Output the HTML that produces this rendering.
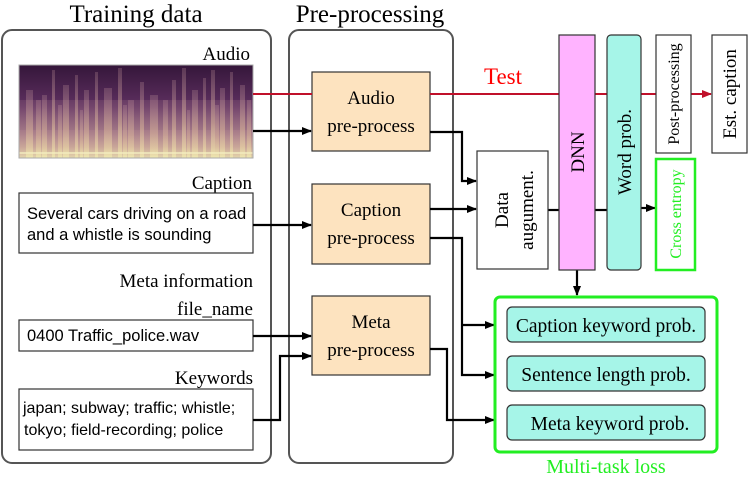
<!DOCTYPE html>
<html><head><style>
body{margin:0;background:#fff;}
svg{display:block;}
.s{font-family:"Liberation Serif",serif;}
.a{font-family:"Liberation Sans",sans-serif;}
</style></head><body>
<svg width="748" height="483" viewBox="0 0 748 483" xmlns="http://www.w3.org/2000/svg">
<defs>
<linearGradient id="bg" x1="0" y1="0" x2="0" y2="1">
<stop offset="0" stop-color="#34163a"/><stop offset="0.45" stop-color="#5e3060"/><stop offset="1" stop-color="#b88a9c"/>
</linearGradient>
<linearGradient id="st" x1="0" y1="0" x2="0" y2="1">
<stop offset="0" stop-color="#c89aa0" stop-opacity="0.25"/><stop offset="0.6" stop-color="#d8b498" stop-opacity="0.55"/><stop offset="1" stop-color="#f0eab0" stop-opacity="0.9"/>
</linearGradient>
<marker id="ab" markerWidth="10" markerHeight="8" refX="9" refY="4" orient="auto" markerUnits="userSpaceOnUse"><path d="M0,0 L10,4 L0,8 z" fill="#000"/></marker>
<marker id="ar" markerWidth="10" markerHeight="8" refX="9" refY="4" orient="auto" markerUnits="userSpaceOnUse"><path d="M0,0 L10,4 L0,8 z" fill="#c0102a"/></marker>
</defs>
<text class="s" x="136" y="22" font-size="25" text-anchor="middle">Training data</text>
<text class="s" x="370" y="22" font-size="25" text-anchor="middle">Pre-processing</text>
<rect x="2" y="30" width="269" height="433" rx="10" fill="none" stroke="#555" stroke-width="2"/>
<rect x="289" y="30" width="164" height="433" rx="10" fill="none" stroke="#555" stroke-width="2"/>
<text class="s" x="250" y="60" font-size="19" text-anchor="end">Audio</text>
<rect x="19" y="65" width="234" height="93" fill="url(#bg)"/>
<g fill="url(#st)">
<rect x="19" y="100" width="234" height="58" opacity="0.6"/>
<rect x="26" y="90" width="7" height="68"/><rect x="36" y="100" width="5" height="58"/><rect x="42" y="95" width="5" height="63"/><rect x="52" y="70" width="3" height="88"/>
<rect x="58" y="105" width="4" height="53"/><rect x="63" y="85" width="6" height="73"/><rect x="75" y="75" width="3" height="83"/><rect x="80" y="110" width="3" height="48"/><rect x="84" y="90" width="5" height="68"/>
<rect x="95" y="72" width="3" height="86"/><rect x="104" y="88" width="8" height="70"/><rect x="118" y="68" width="4" height="90"/><rect x="123" y="105" width="4" height="53"/>
<rect x="128" y="100" width="6" height="58"/><rect x="140" y="82" width="4" height="76"/><rect x="150" y="95" width="8" height="63"/>
<rect x="163" y="100" width="5" height="58"/><rect x="172" y="80" width="4" height="78"/><rect x="182" y="68" width="4" height="90"/><rect x="187" y="110" width="3" height="48"/>
<rect x="192" y="90" width="6" height="68"/><rect x="203" y="78" width="3" height="80"/><rect x="211" y="70" width="4" height="88"/><rect x="215" y="105" width="4" height="53"/>
<rect x="220" y="88" width="5" height="70"/><rect x="230" y="72" width="3" height="86"/><rect x="240" y="85" width="5" height="73"/><rect x="247" y="100" width="4" height="58"/>
<rect x="19" y="130" width="234" height="28" opacity="0.6"/>
</g>
<rect x="19" y="152" width="234" height="2" fill="#f4eec0" opacity="0.7"/>
<rect x="19" y="65" width="234" height="93" fill="none" stroke="#aaa" stroke-width="1"/>
<text class="s" x="252" y="189" font-size="19" text-anchor="end">Caption</text>
<rect x="19" y="193" width="234" height="60" fill="#fff" stroke="#333" stroke-width="1.2"/>
<text class="a" x="27" y="219" font-size="16.5">Several cars driving on a road</text>
<text class="a" x="27" y="240" font-size="16.5">and a whistle is sounding</text>
<text class="s" x="253" y="287" font-size="19" text-anchor="end">Meta information</text>
<text class="s" x="253" y="315" font-size="19" text-anchor="end">file_name</text>
<rect x="19" y="320" width="234" height="31" fill="#fff" stroke="#333" stroke-width="1.2"/>
<text class="a" x="27" y="341" font-size="16.5">0400 Traffic_police.wav</text>
<text class="s" x="253" y="384" font-size="19" text-anchor="end">Keywords</text>
<rect x="19" y="389" width="234" height="61" fill="#fff" stroke="#333" stroke-width="1.2"/>
<text class="a" x="23" y="413" font-size="16">japan; subway; traffic; whistle;</text>
<text class="a" x="24" y="435" font-size="16">tokyo; field-recording; police</text>
<g fill="#fde3bf" stroke="#333" stroke-width="1.2">
<rect x="312" y="72" width="118" height="79"/>
<rect x="312" y="184" width="118" height="80"/>
<rect x="312" y="296" width="118" height="79"/>
</g>
<g class="s" font-size="19" text-anchor="middle">
<text x="371" y="104">Audio</text><text x="371" y="132">pre-process</text>
<text x="371" y="216">Caption</text><text x="371" y="244">pre-process</text>
<text x="371" y="328">Meta</text><text x="371" y="356">pre-process</text>
</g>
<line x1="253" y1="94" x2="312" y2="94" stroke="#c0102a" stroke-width="2"/>
<line x1="430" y1="94" x2="711" y2="94" stroke="#c0102a" stroke-width="2" marker-end="url(#ar)"/>
<text class="s" x="503" y="84" font-size="23" fill="#ff0000" text-anchor="middle">Test</text>
<g stroke="#000" stroke-width="2.2" fill="none">
<line x1="253" y1="131" x2="311" y2="131" marker-end="url(#ab)"/>
<line x1="253" y1="225" x2="311" y2="225" marker-end="url(#ab)"/>
<line x1="253" y1="336" x2="311" y2="336" marker-end="url(#ab)"/>
<polyline points="253,420 280,420 280,356 311,356" marker-end="url(#ab)"/>
<polyline points="430,132 462,132 462,181 476,181" marker-end="url(#ab)"/>
<line x1="430" y1="209" x2="476" y2="209" marker-end="url(#ab)"/>
<polyline points="430,238 462,238 462,375 494,375" marker-end="url(#ab)"/>
<polyline points="462,325 494,325" marker-end="url(#ab)"/>
<polyline points="430,349 447,349 447,420 494,420" marker-end="url(#ab)"/>
<line x1="548" y1="210" x2="559" y2="210"/>
<line x1="595" y1="210" x2="607" y2="210"/>
<line x1="641" y1="208" x2="655" y2="208" marker-end="url(#ab)"/>
<line x1="577" y1="270" x2="577" y2="295" marker-end="url(#ab)"/>
</g>
<rect x="477" y="151" width="71" height="118" fill="#fff" stroke="#333" stroke-width="1.2"/>
<text class="s" font-size="19" text-anchor="middle" transform="translate(512,210) rotate(-90)"><tspan x="0" y="-4">Data</tspan><tspan x="0" y="21">augument.</tspan></text>
<rect x="559" y="35" width="36" height="235" fill="#ffb3ff" stroke="#333" stroke-width="1.2"/>
<text class="s" font-size="19" text-anchor="middle" transform="translate(584,152) rotate(-90)">DNN</text>
<rect x="607" y="35" width="34" height="235" rx="4" fill="#a6f5e8" stroke="#333" stroke-width="1.2"/>
<text class="s" font-size="19" text-anchor="middle" transform="translate(631,152) rotate(-90)">Word prob.</text>
<rect x="656" y="35" width="35" height="118" fill="#fff" stroke="#333" stroke-width="1.2"/>
<text class="s" font-size="16" text-anchor="middle" transform="translate(679,94) rotate(-90)">Post-processing</text>
<rect x="712" y="35" width="35" height="118" fill="#fff" stroke="#333" stroke-width="1.2"/>
<text class="s" font-size="19" text-anchor="middle" transform="translate(736,94) rotate(-90)">Est. caption</text>
<rect x="656" y="159" width="39" height="111" fill="#fff" stroke="#22ee22" stroke-width="2.5"/>
<text class="s" font-size="16" fill="#22ee22" text-anchor="middle" transform="translate(681,214) rotate(-90)">Cross entropy</text>
<rect x="495" y="297" width="222" height="155" rx="5" fill="#fff" stroke="#22ee22" stroke-width="3"/>
<g fill="#a6f5e8" stroke="#333" stroke-width="1.2">
<rect x="507" y="307" width="198" height="35" rx="5"/>
<rect x="507" y="356" width="198" height="35" rx="5"/>
<rect x="507" y="405" width="198" height="35" rx="5"/>
</g>
<g class="s" font-size="19.5" text-anchor="middle">
<text x="606" y="332">Caption keyword prob.</text>
<text x="606" y="381">Sentence length prob.</text>
<text x="610" y="430">Meta keyword prob.</text>
</g>
<text class="s" x="606" y="473" font-size="20" fill="#22ee22" text-anchor="middle">Multi-task loss</text>
</svg>
</body></html>
